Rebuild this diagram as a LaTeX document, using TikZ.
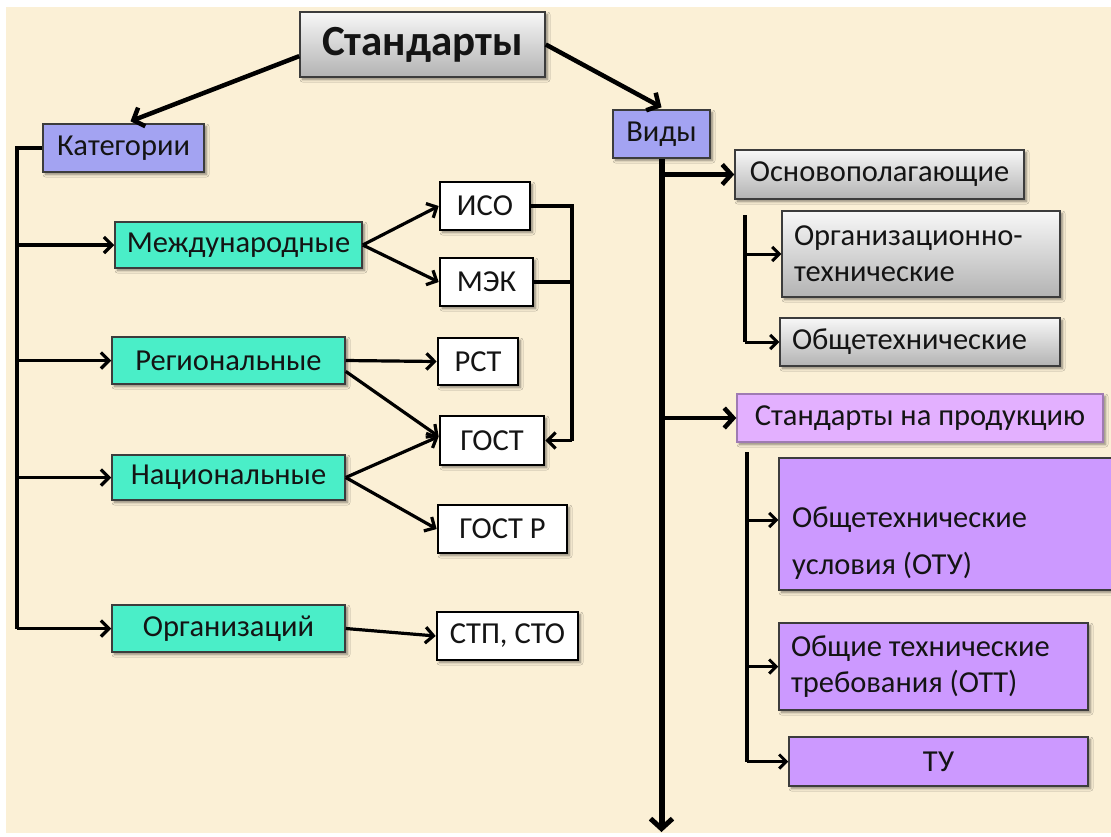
\documentclass[tikz,border=0pt]{standalone}
\usepackage{fontspec}
\setmainfont{Carlito}
\usetikzlibrary{arrows.meta,shadows.blur,calc}

\definecolor{paper}{RGB}{251,240,214}
\definecolor{lavender}{RGB}{163,163,242}
\definecolor{aqua}{RGB}{74,238,200}
\definecolor{lilac}{RGB}{227,176,255}
\definecolor{violet}{RGB}{204,153,255}
\definecolor{edge}{RGB}{60,60,60}
\definecolor{ink}{RGB}{20,20,20}

\tikzset{
  box/.style={draw=edge, line width=1.5pt, rectangle, inner sep=0pt, text=ink,
    font=\fontsize{30.5}{36}\selectfont,
    blur shadow={shadow xshift=2.5pt, shadow yshift=-2.5pt, shadow blur radius=2.5pt,
      shadow blur steps=6, shadow opacity=45}},
  sized/.style 2 args={minimum width=#1, minimum height=#2},
  graybox/.style={box, top color=white!97!black, bottom color=white!70!black},
  catbox/.style={box, fill=lavender},
  levelbox/.style={box, fill=aqua},
  codebox/.style={box, fill=white, draw=black, line width=2.6pt},
  prodbox/.style={box, fill=lilac, draw=lilac!70!black},
  subbox/.style={box, fill=violet},
  leftbox/.style={align=flush left, text width=#1},
  link/.style={draw=black, line width=3.2pt, line cap=butt},
  arr/.style={link, -{Straight Barb[length=8pt,width=16pt,line width=3.2pt]}},
  bigarr/.style={draw=black, line width=4.5pt, -{Straight Barb[length=9pt,width=20pt,line width=4.5pt]}},
  trunk/.style={draw=black, line width=6pt, -{Straight Barb[length=10pt,width=22pt,line width=5pt]}},
  thinarr/.style={link, line width=3pt, -{Straight Barb[length=7pt,width=14pt,line width=3pt]}},
}

\begin{document}
\begin{tikzpicture}[x=1pt, y=-1pt]
  % page and paper background
  \fill[white] (0,0) rectangle (1111,836);
  \useasboundingbox (0,0) rectangle (1111,836);
  \fill[paper] (6,7) rectangle (1111,833);

  % ---------- top ----------
  \node[graybox, sized={245pt}{65pt}, font=\fontsize{43}{50}\selectfont\bfseries] (std) at (422.5,44.5) {Стандарты};

  \node[catbox, sized={161pt}{48pt}] (kat) at (123.5,148) {Категории};
  \node[catbox, sized={97pt}{48pt}] (vid) at (661.5,134) {Виды};

  \draw[bigarr] ($(std.west)!0.35!(std.south west)$) -- ($(kat.north)+(7,-2)$);
  \draw[bigarr] (std.east) -- ($(vid.north)+(0,-2)$);

  % ---------- categories ----------
  \node[levelbox, sized={247pt}{46pt}] (mezh) at (238.5,245) {Международные};
  \node[levelbox, sized={233pt}{47pt}] (reg)  at (228.5,360.5) {Региональные};
  \node[levelbox, sized={233pt}{45pt}] (nac)  at (228.5,477.5) {Национальные};
  \node[levelbox, sized={233pt}{47pt}] (org)  at (228.5,628.5) {Организаций};

  \node[codebox, sized={90pt}{48pt}]  (iso)   at (485,206)   {ИСО};
  \node[codebox, sized={93pt}{48pt}]  (mek)   at (486.5,282) {МЭК};
  \node[codebox, sized={80pt}{47pt}]  (rst)   at (478,361.5) {РСТ};
  \node[codebox, sized={104pt}{49pt}] (gost)  at (492,440.5) {ГОСТ};
  \node[codebox, sized={129pt}{48pt}] (gostr) at (502.5,529) {ГОСТ Р};
  \node[codebox, sized={141pt}{48pt}] (stp)   at (507.5,636) {СТП, СТО};

  % left spine
  \coordinate (lspine) at (17,148);
  \draw[link] (kat.west) -- (lspine) -- (lspine |- org.west);
  \draw[arr] (lspine |- mezh.west) -- (mezh.west);
  \draw[arr] (lspine |- reg.west) -- (reg.west);
  \draw[arr] (lspine |- nac.west) -- (nac.west);
  \draw[arr] (lspine |- org.west) -- (org.west);

  % categories to documents
  \coordinate (gin) at ($(gost.west)+(0,-4)$);
  \draw[arr] (mezh.east) -- (iso.west);
  \draw[arr] (mezh.east) -- (mek.west);
  \draw[arr] (reg.east) -- (rst.west);
  \draw[arr] ($(reg.east)!0.45!(reg.south east)$) -- (gin);
  \draw[arr] (nac.east) -- (gin);
  \draw[arr] (nac.east) -- (gostr.west);
  \draw[arr] (org.east) -- (stp.west);

  % ISO / IEC bracket into GOST
  \coordinate (rbr) at (572,206);
  \draw[link] (iso.east) -- (rbr) -- (rbr |- gost.east);
  \draw[link] (mek.east) -- (rbr |- mek.east);
  \draw[arr] (rbr |- gost.east) -- (gost.east);

  % ---------- kinds ----------
  \node[graybox, sized={289pt}{49pt}] (osn) at (879.5,174.5) {Основополагающие};
  \node[graybox, sized={278pt}{86pt}, leftbox=254pt] (orgt) at (921,254) {Организационно-\\технические};
  \node[graybox, sized={280pt}{48pt}, leftbox=256pt] (obsh) at (920,342) {Общетехнические};
  \node[prodbox, sized={366pt}{48pt}] (prod) at (920,418) {Стандарты на продукцию};

  \node[subbox, sized={339pt}{132pt}] (otu) at (948.5,524) {};
  \node[text=ink, font=\fontsize{30.5}{36}\selectfont, align=flush left, anchor=west, inner sep=0pt]
    (otutext) at (792,543) {Общетехнические\\[11pt]условия (ОТУ)};
  \node[subbox, sized={309pt}{87pt}, leftbox=285pt] (ott) at (933.5,666.5) {Общие технические\\требования (ОТТ)};
  \node[subbox, sized={299pt}{49pt}] (tu) at (938.5,761.5) {ТУ};

  % main trunk
  \coordinate (tend) at (661.5,832);
  \draw[trunk] (vid.south) -- (tend);
  \draw[bigarr] (vid.south |- osn.west) -- (osn.west);
  \draw[bigarr] (vid.south |- prod.west) -- (prod.west);

  % sub-brackets
  \coordinate (b1) at (745,215);
  \draw[link] (b1) -- (b1 |- obsh.west);
  \draw[thinarr] (b1 |- orgt.west) -- (orgt.west);
  \draw[thinarr] (b1 |- obsh.west) -- (obsh.west);

  \coordinate (b2) at (747,452);
  \draw[link] (b2) -- (b2 |- tu.west);
  \draw[thinarr] ($(b2 |- otu.west)+(0,-4)$) -- ($(otu.west)+(0,-4)$);
  \draw[thinarr] (b2 |- ott.west) -- (ott.west);
  \draw[thinarr] (b2 |- tu.west) -- (tu.west);
\end{tikzpicture}
\end{document}
